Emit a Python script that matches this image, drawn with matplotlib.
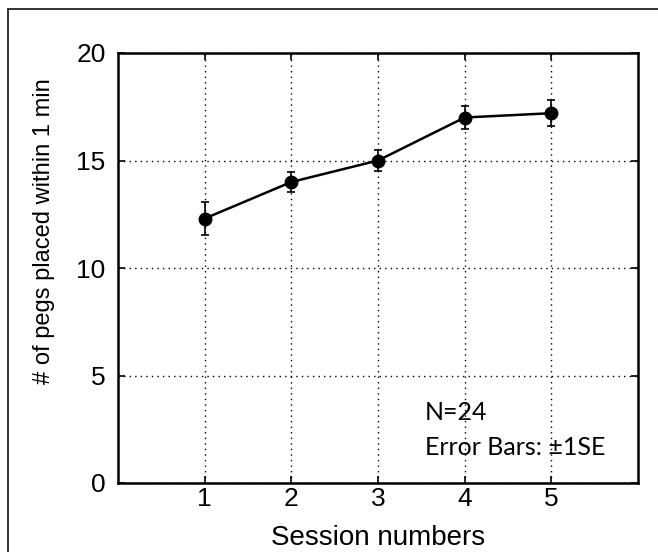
import matplotlib
matplotlib.use('Agg')
import matplotlib.pyplot as plt
import matplotlib.patches as mpatches

sessions = [1, 2, 3, 4, 5]
pegs = [12.3, 14.0, 15.0, 17.0, 17.2]
se = [0.75, 0.45, 0.5, 0.55, 0.6]
xticks = [1, 2, 3, 4, 5]
yticks = [0, 5, 10, 15, 20]

plt.rcParams['font.family'] = ['Liberation Sans', 'DejaVu Sans']

fig = plt.figure(figsize=(6.58, 5.52), dpi=100)
fig.patch.set_facecolor('white')

# outer frame around the figure (left/top visible only)
frame = mpatches.Rectangle((8 / 658, -0.1), 1.2, 1 - 9 / 552 + 0.1, transform=fig.transFigure,
                           facecolor='none', edgecolor='#222222', linewidth=1.3)
fig.patches.append(frame)

ax = fig.add_axes([118 / 658, 1 - 483 / 552, 520 / 658, 430 / 552])
ax.errorbar(sessions, pegs, yerr=se, color='black', lw=1.8, marker='o', markersize=9,
            ecolor='black', elinewidth=1.2, capsize=3, capthick=1.2, zorder=3)

ax.set_xlim(0, 6)
ax.set_ylim(0, 20)
ax.set_xticks(xticks)
ax.set_yticks(yticks)
ax.grid(True, color='black', linestyle=(0, (1, 3)), linewidth=1)
ax.tick_params(direction='in', length=5, width=1.2, labelsize=19, top=True, right=True)
ax.tick_params(axis='x', pad=3)
ax.tick_params(axis='y', pad=9)
for s in ax.spines.values():
    s.set_linewidth(1.8)

ax.set_xlabel('Session numbers', fontsize=20, labelpad=10)
ax.set_ylabel('# of pegs placed within 1 min', fontsize=17)
ax.yaxis.set_label_coords(-0.121, 0.586)

ax.text(3.54, 3.3, 'N=24', fontsize=18, family=['Lato', 'DejaVu Sans'], va='center')
ax.text(3.54, 1.67, 'Error Bars: \u00b11SE', fontsize=18, family=['Lato', 'DejaVu Sans'], va='center')

fig.savefig('out.png', dpi=100, facecolor='white')
plt.close()
